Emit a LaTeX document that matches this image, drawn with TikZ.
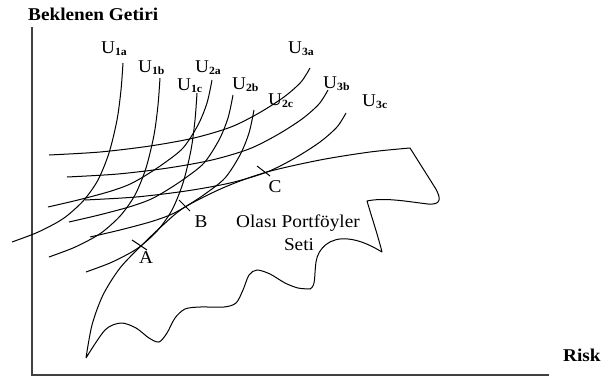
\documentclass[tikz,border=0pt]{standalone}
\usepackage{fontspec}
\setmainfont{Liberation Serif}[FakeStretch=1.07]
% indifference-curve label: U with a small bold subscript
\newcommand{\usub}[1]{U\raisebox{-2pt}{\fontsize{11}{11}\selectfont\bfseries #1}}
\begin{document}
\begin{tikzpicture}[x=1pt,y=-1pt,
  axis/.style={line width=1.2pt, black!75},
  ucurve/.style={line width=1pt},
  frontier/.style={line width=1pt, line join=round},
  tickmark/.style={line width=1pt},
  txt/.style={inner sep=0pt, font=\fontsize{18}{20}\selectfont},
  ulabel/.style={txt, anchor=base west},
]
\useasboundingbox (0,0) rectangle (601,380);

% axes
\coordinate (O) at (32,375);
\coordinate (ytop) at (32,27);
\coordinate (xend) at (549,375);
\draw[axis] (ytop) -- (O) -- (xend);
\node[txt, font=\bfseries\fontsize{18}{20}\selectfont, anchor=base west] (ylab) at (28,20) {Beklenen Getiri};
\node[txt, font=\bfseries\fontsize{18}{20}\selectfont, anchor=base west] (xlab) at (563,361) {Risk};

% set of attainable portfolios: efficient frontier on top, ragged edge below
\draw[frontier] plot[smooth] coordinates {(86,358) (92,325) (103,295) (120,268) (142,245) (163,225) (185,207) (225,187) (267,172) (320,160) (370,152) (410,148)}
  -- (434,186) .. controls (443,200) and (440,205) .. (428,204)
  .. controls (410,202) and (385,197) .. (367,201)
  .. controls (372,218) and (378,236) .. (382,252)
  .. controls (372,246) and (360,240) .. (348,239)
  .. controls (330,237) and (318,248) .. (316,262)
  .. controls (314,276) and (316,286) .. (310,289)
  -- plot[smooth] coordinates {(310,289) (298,288) (285,283) (270,274) (257,270) (249,275) (243,290) (236,303) (224,307) (200,307) (185,309) (175,318) (167,333) (159,342) (149,338) (136,328) (121,323) (105,330) (86,358)};

% investor 1: steep indifference curves (tangent at A)
\foreach \dx/\dy in {0/0, -37/-15, -74/-30}
  \draw[ucurve, shift={(\dx,\dy)}] plot[smooth] coordinates {(86,272) (110,263) (130,253) (142,245) (158,230) (172,210) (183,183) (191,150) (195,120) (197,93)};

% investor 2: medium indifference curves (tangent at B)
\foreach \dx/\dy in {0/0, -21/-15, -42/-30}
  \draw[ucurve, shift={(\dx,\dy)}] plot[smooth] coordinates {(90,237) (120,230) (150,222) (170,215) (185,207) (205,194) (225,178) (240,155) (249,133) (254,110)};

% investor 3: flat indifference curves (tangent at C)
\foreach \dx/\dy in {0/0, -18/-23, -36/-45}
  \draw[ucurve, shift={(\dx,\dy)}] plot[smooth] coordinates {(85,200) (136,197) (186,191) (230,183) (267,172) (295,158) (320,142) (337,127) (346,113)};

% tangency marks
\coordinate (tA1) at (132,240); \coordinate (tA2) at (147,250);
\coordinate (tB1) at (179,200); \coordinate (tB2) at (190,211);
\coordinate (tC1) at (257,166); \coordinate (tC2) at (270,176);
\draw[tickmark] (tA1) -- (tA2);
\draw[tickmark] (tB1) -- (tB2);
\draw[tickmark] (tC1) -- (tC2);
\node[txt, anchor=base] (A) at (146,263) {A};
\node[txt, anchor=base] (B) at (201,227) {B};
\node[txt, anchor=base] (C) at (275,192) {C};

% region caption
\node[txt, anchor=base] (set1) at (298,227) {Olası Portföyler};
\node[txt, anchor=base] (set2) at (299,250) {Seti};

% curve labels
\node[ulabel] (u1a) at (101,53) {\usub{1a}};
\node[ulabel] (u1b) at (138,72) {\usub{1b}};
\node[ulabel] (u1c) at (177,90) {\usub{1c}};
\node[ulabel] (u2a) at (195,72) {\usub{2a}};
\node[ulabel] (u2b) at (232,89) {\usub{2b}};
\node[ulabel] (u2c) at (268,105) {\usub{2c}};
\node[ulabel] (u3a) at (288,53) {\usub{3a}};
\node[ulabel] (u3b) at (323,88) {\usub{3b}};
\node[ulabel] (u3c) at (362,106) {\usub{3c}};
\end{tikzpicture}
\end{document}
